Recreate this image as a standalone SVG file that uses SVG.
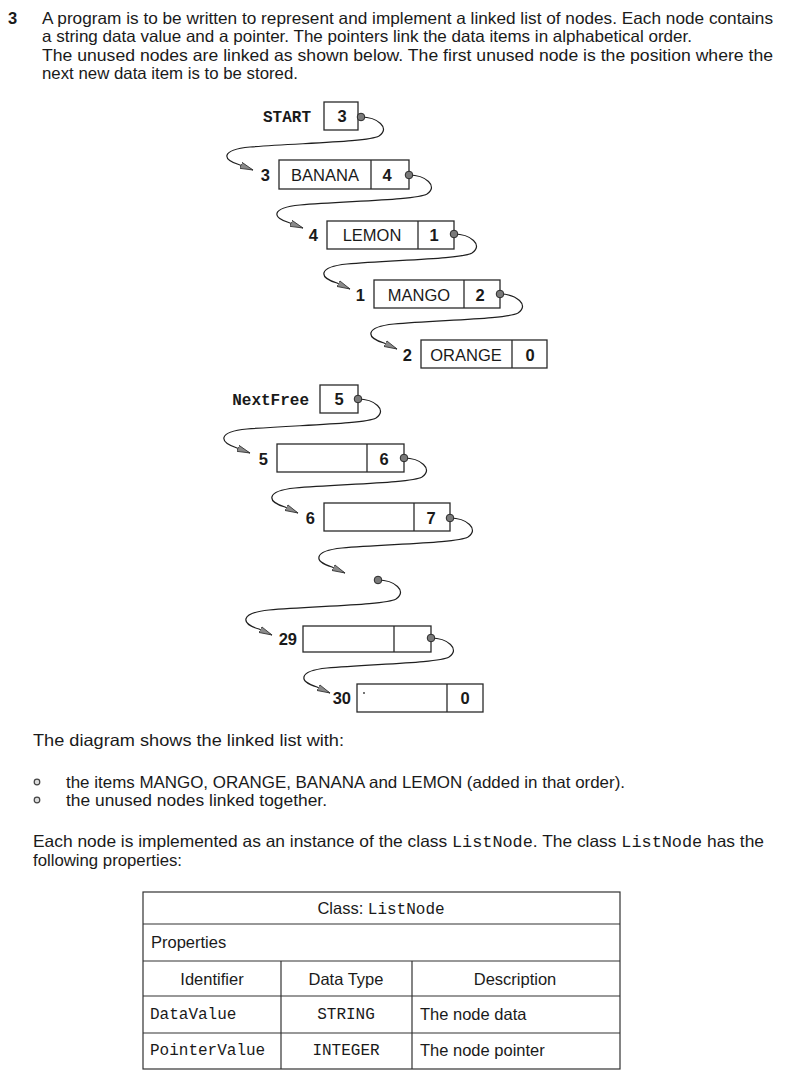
<svg xmlns="http://www.w3.org/2000/svg" width="805" height="1088" viewBox="0 0 805 1088">
<style>
.t{font-family:"Liberation Sans",Arial,sans-serif;font-size:16.5px;fill:#1a1a1a}
.m{font-family:"Liberation Mono","Courier New",monospace;font-size:16px;fill:#1a1a1a}
.mb{font-family:"Liberation Mono","Courier New",monospace;font-size:16px;font-weight:bold;fill:#1a1a1a}
.n{font-family:"Liberation Sans",Arial,sans-serif;font-size:16.5px;fill:#1a1a1a}
.b{font-family:"Liberation Sans",Arial,sans-serif;font-size:16.5px;font-weight:bold;fill:#1a1a1a}
.c{text-anchor:middle}
.e{text-anchor:end}
.box{fill:#fff;stroke:#2a2a2a;stroke-width:1.3}
.ln{stroke:#2a2a2a;stroke-width:1.3}
.con{fill:none;stroke:#1f1f1f;stroke-width:1.2;marker-end:url(#arr)}
.dot{fill:#7a7a7a;stroke:#2a2a2a;stroke-width:1}
.tb{fill:none;stroke:#333;stroke-width:1.2}
</style>
<defs>
<marker id="arr" viewBox="0 0 14 8" refX="13" refY="4" markerWidth="14" markerHeight="8" markerUnits="userSpaceOnUse" orient="auto">
<path d="M0,0.8 L13,4 L0,7.2 Z" fill="#8a8a8a" stroke="#333" stroke-width="0.8"/>
</marker>
</defs>
<rect width="805" height="1088" fill="#fff"/>

<g id="intro">
<text class="b" x="8" y="24">3</text>
<text class="t" x="42" y="24" textLength="731" lengthAdjust="spacingAndGlyphs">A program is to be written to represent and implement a linked list of nodes. Each node contains</text>
<text class="t" x="42" y="42" textLength="650" lengthAdjust="spacingAndGlyphs">a string data value and a pointer. The pointers link the data items in alphabetical order.</text>
<text class="t" x="42" y="61" textLength="731" lengthAdjust="spacingAndGlyphs">The unused nodes are linked as shown below. The first unused node is the position where the</text>
<text class="t" x="42" y="79" textLength="256" lengthAdjust="spacingAndGlyphs">next new data item is to be stored.</text>
</g>

<g id="connectors">
<path class="con" d="M361,117 c16,0 30,11 18,19 c-10,6 -79,7 -129,11 c-30,3 -28,13 -10,18 l13,5"/>
<path class="con" d="M409,175 c16,0 30,11 18,19 c-10,6 -79,7 -127,11 c-30,3 -28,13 -10,18 l13,5"/>
<path class="con" d="M454,234 c16,0 30,11 18,19 c-10,6 -79,7 -125,11 c-30,3 -28,14 -10,19 l13,6"/>
<path class="con" d="M500,294 c16,0 30,11 18,19 c-10,6 -79,7 -124,11 c-30,3 -28,14 -10,19 l13,6"/>
<path class="con" d="M358,399 c16,0 30,11 18,19 c-10,6 -79,7 -129,11 c-30,3 -28,13 -10,19 l13,5"/>
<path class="con" d="M404,458 c16,0 30,11 18,19 c-10,6 -79,7 -127,11 c-30,3 -28,14 -10,19 l13,6"/>
<path class="con" d="M450,518 c16,0 30,11 18,19 c-10,6 -79,7 -126,11 c-30,3 -28,14 -10,19 l13,6"/>
<path class="con" d="M378,580 c16,0 30,11 18,19 c-10,6 -79,7 -127,11 c-30,3 -28,14 -10,19 l13,6"/>
<path class="con" d="M431,638 c16,0 30,11 18,19 c-10,6 -79,7 -122,11 c-30,3 -28,14 -10,19 l13,6"/>
<circle class="dot" cx="378" cy="580" r="3.8"/>
</g>

<g id="node-start">
<text class="mb e" x="311" y="122">START</text>
<rect class="box" x="324" y="102" width="34" height="28"/>
<text class="b c" x="342" y="122">3</text>
<circle class="dot" cx="361" cy="117" r="3.8"/>
</g>

<g id="node-3">
<text class="b e" x="270" y="181">3</text>
<rect class="box" x="279" y="160" width="130" height="29"/>
<line class="ln" x1="371" y1="160" x2="371" y2="189"/>
<text class="n c" x="325" y="181">BANANA</text>
<text class="b c" x="387" y="181">4</text>
<circle class="dot" cx="409" cy="175" r="3.8"/>
</g>

<g id="node-4">
<text class="b e" x="318" y="241">4</text>
<rect class="box" x="327" y="221" width="127" height="28"/>
<line class="ln" x1="418" y1="221" x2="418" y2="249"/>
<text class="n c" x="372" y="241">LEMON</text>
<text class="b c" x="434" y="241">1</text>
<circle class="dot" cx="454" cy="234" r="3.8"/>
</g>

<g id="node-1">
<text class="b e" x="365" y="301">1</text>
<rect class="box" x="374" y="280" width="126" height="28"/>
<line class="ln" x1="464" y1="280" x2="464" y2="308"/>
<text class="n c" x="419" y="301">MANGO</text>
<text class="b c" x="480" y="301">2</text>
<circle class="dot" cx="500" cy="294" r="3.8"/>
</g>

<g id="node-2">
<text class="b e" x="412" y="361">2</text>
<rect class="box" x="421" y="340" width="126" height="28"/>
<line class="ln" x1="512" y1="340" x2="512" y2="368"/>
<text class="n c" x="466" y="361">ORANGE</text>
<text class="b c" x="530" y="361">0</text>
</g>

<g id="node-nextfree">
<text class="mb e" x="309" y="405">NextFree</text>
<rect class="box" x="320" y="385" width="38" height="28"/>
<text class="b c" x="339" y="405">5</text>
<circle class="dot" cx="358" cy="399" r="3.8"/>
</g>

<g id="node-5">
<text class="b e" x="268" y="465">5</text>
<rect class="box" x="277" y="444" width="127" height="28"/>
<line class="ln" x1="367" y1="444" x2="367" y2="472"/>
<text class="b c" x="384" y="465">6</text>
<circle class="dot" cx="404" cy="458" r="3.8"/>
</g>

<g id="node-6">
<text class="b e" x="315" y="524">6</text>
<rect class="box" x="324" y="503" width="126" height="28"/>
<line class="ln" x1="414" y1="503" x2="414" y2="531"/>
<text class="b c" x="431" y="524">7</text>
<circle class="dot" cx="450" cy="518" r="3.8"/>
</g>

<g id="node-29">
<text class="b e" x="297" y="645">29</text>
<rect class="box" x="303" y="626" width="128" height="26"/>
<line class="ln" x1="394" y1="626" x2="394" y2="652"/>
<circle class="dot" cx="431" cy="638" r="3.8"/>
</g>

<g id="node-30">
<text class="b e" x="351" y="704">30</text>
<rect class="box" x="357" y="684" width="126" height="28"/>
<line class="ln" x1="447" y1="684" x2="447" y2="712"/>
<circle cx="364" cy="693" r="0.9" fill="#333"/>
<text class="b c" x="465" y="704">0</text>
</g>

<g id="body">
<text class="t" x="33" y="746" textLength="311" lengthAdjust="spacingAndGlyphs">The diagram shows the linked list with:</text>
<circle cx="37" cy="782" r="2.8" fill="#ddd" stroke="#444" stroke-width="1.2"/>
<circle cx="37" cy="800" r="2.8" fill="#ddd" stroke="#444" stroke-width="1.2"/>
<text class="t" x="66" y="788" textLength="559" lengthAdjust="spacingAndGlyphs">the items MANGO, ORANGE, BANANA and LEMON (added in that order).</text>
<text class="t" x="66" y="806" textLength="261" lengthAdjust="spacingAndGlyphs">the unused nodes linked together.</text>
<text class="t" x="33" y="847" textLength="731" lengthAdjust="spacingAndGlyphs">Each node is implemented as an instance of the class <tspan class="m">ListNode</tspan>. The class <tspan class="m">ListNode</tspan> has the</text>
<text class="t" x="33" y="866" textLength="149" lengthAdjust="spacingAndGlyphs">following properties:</text>
</g>

<g id="table">
<rect class="tb" x="143" y="892" width="477" height="177"/>
<line class="tb" x1="143" y1="924" x2="620" y2="924"/>
<line class="tb" x1="143" y1="961" x2="620" y2="961"/>
<line class="tb" x1="143" y1="996" x2="620" y2="996"/>
<line class="tb" x1="143" y1="1033" x2="620" y2="1033"/>
<line class="tb" x1="281" y1="961" x2="281" y2="1069"/>
<line class="tb" x1="412" y1="961" x2="412" y2="1069"/>
<text class="t c" x="381" y="914">Class: <tspan class="m">ListNode</tspan></text>
<text class="t" x="151" y="948">Properties</text>
<text class="t c" x="212" y="985">Identifier</text>
<text class="t c" x="346" y="985">Data Type</text>
<text class="t c" x="515" y="985">Description</text>
<text class="m" x="150" y="1019">DataValue</text>
<text class="m c" x="346" y="1019">STRING</text>
<text class="t" x="420" y="1020">The node data</text>
<text class="m" x="150" y="1055">PointerValue</text>
<text class="m c" x="346" y="1055">INTEGER</text>
<text class="t" x="420" y="1056">The node pointer</text>
</g>
</svg>
